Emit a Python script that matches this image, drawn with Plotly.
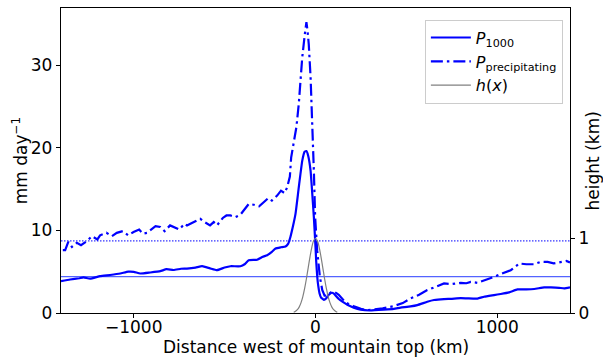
import plotly.graph_objects as go

# P1000 (solid)
x_p1000 = [-1400, -1350, -1300, -1276, -1240, -1185, -1130, -1074, -1030, -1000, -964, -910, -854, -820, -781,
           -740, -707, -660, -624, -580, -542, -500, -468, -413, -390, -367, -321, -290, -266, -240, -220,
           -190, -165, -150, -138, -125, -110, -92, -73, -60, -50, -40, -27, -18, -9, 0, 4, 10, 15, 22, 30,
           46, 60, 73, 90, 101, 115, 128, 150, 175, 210, 248, 300, 376, 431, 468, 523, 560, 615, 652, 707,
           744, 799, 836, 891, 927, 982, 1019, 1065, 1111, 1160, 1203, 1258, 1295, 1340, 1368, 1400]
y_p1000 = [3.85, 4.05, 4.2, 4.3, 4.15, 4.46, 4.6, 4.78, 5.0, 4.98, 4.78, 4.9, 5.06, 5.3, 5.2,
           5.35, 5.38, 5.5, 5.66, 5.4, 5.18, 5.5, 5.66, 5.66, 5.9, 6.39, 6.45, 6.8, 6.99, 7.4, 7.8,
           7.95, 8.05, 8.4, 9.2, 10.4, 12.0, 15.2, 18.4, 19.5, 19.6, 19.0, 17.2, 14.5, 11.6, 8.0, 6.2, 4.3, 3.3, 2.4, 1.9,
           1.6, 1.8, 2.2, 2.45, 2.35, 2.0, 1.7, 1.35, 1.0, 0.65, 0.4, 0.3, 0.4, 0.5, 0.64, 0.8, 0.96, 1.36, 1.57, 1.69,
           1.72, 1.8, 1.77, 1.75, 1.97, 2.17, 2.3, 2.5, 2.85, 2.85, 2.9, 3.1, 3.1, 3.05, 2.97, 3.1]

# P precipitating (dash-dot)
x_prec = [-1390, -1377, -1360, -1340, -1313, -1290, -1258, -1230, -1200, -1185, -1150, -1120, -1093, -1060, -1030,
          -1001, -970, -950, -927, -900, -880, -854, -830, -800, -781, -750, -720, -707, -680, -655, -634,
          -610, -580, -560, -542, -510, -490, -468, -440, -413, -390, -367, -340, -310, -285, -260, -240,
          -211, -190, -170, -156, -141, -134, -120, -105, -92, -73, -60, -55, -50, -44, -37, -27, -18, -13,
          -9, -2, 9, 24, 37, 50, 64, 85, 101, 115, 128, 156, 180, 211, 250, 285, 321, 370, 431, 480, 523,
          570, 615, 660, 707, 750, 799, 830, 854, 891, 940, 982, 1030, 1074, 1100, 1120, 1160, 1203, 1240,
          1277, 1310, 1350, 1380, 1400]
y_prec = [7.6, 7.6, 8.6, 8.0, 8.5, 8.2, 8.7, 9.3, 8.9, 9.4, 9.7, 9.3, 9.7, 9.9, 9.4,
          9.8, 10.1, 9.6, 9.7, 10.2, 10.5, 10.4, 9.9, 10.6, 10.4, 10.1, 10.8, 10.6, 10.9, 11.2, 11.4,
          11.0, 10.6, 11.0, 10.6, 11.5, 11.8, 11.8, 11.6, 11.9, 12.6, 13.2, 13.1, 12.9, 13.4, 13.9, 13.6,
          14.2, 14.8, 14.5, 15.2, 16.5, 18.8, 20.4, 22.5, 25.3, 30.9, 33.5, 34.9, 35.2, 34.2, 32.5, 28.5, 23.3, 18.8,
          17.2, 11.6, 7.6, 4.4, 2.8, 2.1, 2.1, 2.5, 2.6, 2.4, 2.2, 1.5, 1.1, 0.8, 0.5, 0.35, 0.4, 0.55, 0.84, 1.2, 1.77,
          2.2, 2.77, 3.2, 3.57, 3.5, 3.65, 3.6, 3.77, 3.65, 4.0, 4.37, 4.8, 5.18, 5.6, 5.99, 5.9, 5.9, 6.2,
          6.18, 6.0, 6.18, 6.3, 6.1]

# mountain height h(x), km
x_h = [-120, -110, -100, -90, -80, -70, -60, -50, -40, -30, -20, -10, 0,
       10, 20, 30, 40, 50, 60, 70, 80, 90, 100, 110, 120]
y_h = [0.011, 0.023, 0.044, 0.079, 0.135, 0.216, 0.325, 0.458, 0.607, 0.755, 0.882, 0.969, 1.0,
       0.969, 0.882, 0.755, 0.607, 0.458, 0.325, 0.216, 0.135, 0.079, 0.044, 0.023, 0.011]

# reference horizontal levels (mm/day)
x_span = [-1400, 1400]
mean_prec = [8.72, 8.72]
mean_p1000 = [4.4, 4.4]

FONT = "DejaVu Sans"

fig = go.Figure()
fig.add_trace(go.Scatter(x=x_span, y=mean_prec, mode="lines", showlegend=False,
                         line=dict(color="blue", width=1, dash="1.5px,1.5px"), hoverinfo="skip"))
fig.add_trace(go.Scatter(x=x_span, y=mean_p1000, mode="lines", showlegend=False,
                         line=dict(color="rgba(40,60,255,0.8)", width=1.3), hoverinfo="skip"))
fig.add_trace(go.Scatter(x=x_p1000, y=y_p1000, mode="lines", name="<i>P</i><sub>1000</sub>",
                         line=dict(color="blue", width=2.2, shape="spline", smoothing=0.4)))
fig.add_trace(go.Scatter(x=x_prec, y=y_prec, mode="lines", name="<i>P</i><sub>precipitating</sub>",
                         line=dict(color="blue", width=2.2, dash="12px,4px,2.5px,4px")))
fig.add_trace(go.Scatter(x=x_h, y=y_h, mode="lines", name="<i>h</i>(<i>x</i>)", yaxis="y2",
                         line=dict(color="gray", width=1.2, shape="spline")))

axis_common = dict(showgrid=False, zeroline=False, ticks="outside", ticklen=4, tickwidth=1.2,
                   tickcolor="black", showline=True, linecolor="black", linewidth=1.3,
                   tickfont=dict(family=FONT, size=17, color="black"), automargin=False)

fig.update_layout(
    width=603, height=359,
    margin=dict(l=61, r=33, t=8, b=46),
    paper_bgcolor="white", plot_bgcolor="white",
    font=dict(family=FONT, size=17, color="black"),
    xaxis=dict(range=[-1400, 1400], tickvals=[-1000, 0, 1000], ticktext=["\u22121000", "0", "1000"],
               mirror=True, ticklabelstandoff=-6, **axis_common),
    yaxis=dict(range=[0, 36.9], tickvals=[0, 10, 20, 30], **axis_common),
    yaxis2=dict(range=[0, 4.08], tickvals=[0, 1], overlaying="y", side="right", **axis_common),
    legend=dict(x=0.986, y=0.962, xanchor="right", yanchor="top", bgcolor="white",
                bordercolor="#cccccc", borderwidth=1, font=dict(family=FONT, size=16),
                tracegroupgap=0, itemwidth=40),
    showlegend=True,
    annotations=[
        dict(text="Distance west of mountain top (km)", xref="paper", yref="paper", x=0.5, y=-0.112,
             xanchor="center", yanchor="middle", showarrow=False, font=dict(size=17)),
        dict(text="mm day<sup>\u22121</sup>", xref="paper", yref="paper", x=-0.081, y=0.5,
             xanchor="center", yanchor="middle", textangle=-90, showarrow=False, font=dict(size=17)),
        dict(text="height (km)", xref="paper", yref="paper", x=1.045, y=0.5,
             xanchor="center", yanchor="middle", textangle=-90, showarrow=False, font=dict(size=17)),
    ],
)

fig.write_html("out.html")
